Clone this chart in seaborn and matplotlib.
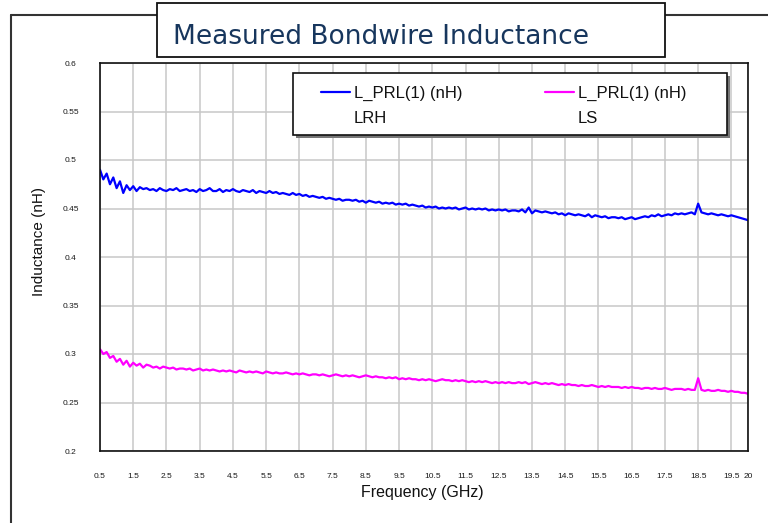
import numpy as np
import pandas as pd
import matplotlib
matplotlib.use("Agg")
import matplotlib.pyplot as plt
from matplotlib.lines import Line2D
from matplotlib.patches import Rectangle
import seaborn as sns

# ---------------- data ----------------
freq_ghz = np.round(np.arange(0.5, 20.05, 0.1), 1)

lrh_nh = [
    0.490, 0.480, 0.486, 0.475, 0.482,
    0.471, 0.478, 0.466, 0.474, 0.469, 0.473, 0.468, 0.472, 0.470, 0.471,
    0.469, 0.470, 0.468, 0.471, 0.469, 0.468, 0.470, 0.469, 0.471, 0.468,
    0.469, 0.470, 0.468, 0.469, 0.467, 0.470, 0.468, 0.469, 0.471, 0.468,
    0.468, 0.470, 0.467, 0.469, 0.468, 0.470, 0.468, 0.467, 0.469, 0.468,
    0.467, 0.469, 0.466, 0.468, 0.467, 0.466, 0.468, 0.466, 0.467, 0.465,
    0.466, 0.465, 0.464, 0.466, 0.464, 0.465, 0.463, 0.464, 0.462, 0.463,
    0.462, 0.461, 0.462, 0.460, 0.461, 0.460, 0.459, 0.460, 0.458, 0.459,
    0.459, 0.458, 0.459, 0.457, 0.458, 0.456, 0.458, 0.457, 0.456, 0.457,
    0.455, 0.456, 0.455, 0.456, 0.454, 0.455, 0.454, 0.455, 0.453, 0.454,
    0.453, 0.452, 0.453, 0.451, 0.452, 0.451, 0.452, 0.450, 0.451, 0.450,
    0.451, 0.450, 0.451, 0.449, 0.450, 0.451, 0.449, 0.450, 0.449, 0.450,
    0.449, 0.450, 0.448, 0.449, 0.448, 0.449, 0.448, 0.449, 0.447, 0.448,
    0.448, 0.447, 0.449, 0.446, 0.451, 0.445, 0.448, 0.447, 0.446, 0.447,
    0.446, 0.445, 0.446, 0.444, 0.445, 0.443, 0.445, 0.444, 0.443, 0.444,
    0.443, 0.442, 0.444, 0.441, 0.443, 0.442, 0.441, 0.442, 0.440, 0.441,
    0.441, 0.440, 0.441, 0.439, 0.440, 0.441, 0.439, 0.440, 0.441, 0.442,
    0.441, 0.443, 0.442, 0.444, 0.442, 0.443, 0.444, 0.443, 0.445, 0.444,
    0.445, 0.444, 0.445, 0.446, 0.444, 0.455, 0.446, 0.445, 0.444, 0.445,
    0.444, 0.443, 0.444, 0.443, 0.442, 0.443, 0.442, 0.441, 0.440, 0.439,
    0.438,
]

ls_nh = [
    0.305, 0.300, 0.302, 0.296, 0.298,
    0.292, 0.295, 0.289, 0.293, 0.287, 0.291, 0.288, 0.290, 0.286, 0.289,
    0.288, 0.286, 0.287, 0.285, 0.287, 0.286, 0.285, 0.286, 0.284, 0.285,
    0.285, 0.284, 0.285, 0.283, 0.284, 0.285, 0.283, 0.284, 0.283, 0.284,
    0.283, 0.282, 0.283, 0.282, 0.283, 0.282, 0.281, 0.283, 0.282, 0.281,
    0.282, 0.281, 0.282, 0.281, 0.280, 0.282, 0.281, 0.280, 0.281, 0.280,
    0.280, 0.281, 0.280, 0.279, 0.280, 0.279, 0.280, 0.279, 0.278, 0.279,
    0.279, 0.278, 0.279, 0.278, 0.277, 0.278, 0.279, 0.278, 0.277, 0.278,
    0.277, 0.278, 0.277, 0.276, 0.277, 0.278, 0.277, 0.276, 0.277, 0.276,
    0.276, 0.275, 0.276, 0.275, 0.276, 0.274, 0.275, 0.274, 0.275, 0.274,
    0.274, 0.273, 0.274, 0.273, 0.274, 0.273, 0.272, 0.273, 0.274, 0.273,
    0.273, 0.272, 0.273, 0.272, 0.273, 0.272, 0.271, 0.272, 0.271, 0.272,
    0.271, 0.272, 0.271, 0.270, 0.271, 0.270, 0.271, 0.270, 0.271, 0.270,
    0.270, 0.271, 0.270, 0.271, 0.269, 0.270, 0.271, 0.270, 0.269, 0.270,
    0.269, 0.270, 0.269, 0.268, 0.269, 0.268, 0.269, 0.268, 0.268, 0.267,
    0.268, 0.267, 0.267, 0.268, 0.267, 0.266, 0.267, 0.266, 0.267, 0.266,
    0.266, 0.266, 0.265, 0.266, 0.265, 0.266, 0.265, 0.265, 0.264, 0.265,
    0.265, 0.264, 0.265, 0.264, 0.264, 0.265, 0.264, 0.263, 0.264, 0.264,
    0.264, 0.263, 0.264, 0.263, 0.263, 0.275, 0.263, 0.262, 0.263, 0.262,
    0.262, 0.263, 0.262, 0.262, 0.261, 0.262, 0.261, 0.261, 0.260, 0.260,
    0.259,
]

series_names = ["LRH", "LS"]
legend_line1 = ["L_PRL(1) (nH)", "L_PRL(1) (nH)"]
x_ticks = [0.5, 1.5, 2.5, 3.5, 4.5, 5.5, 6.5, 7.5, 8.5, 9.5, 10.5, 11.5,
           12.5, 13.5, 14.5, 15.5, 16.5, 17.5, 18.5, 19.5, 20]
x_tick_labels = ["0.5", "1.5", "2.5", "3.5", "4.5", "5.5", "6.5", "7.5", "8.5",
                 "9.5", "10.5", "11.5", "12.5", "13.5", "14.5", "15.5", "16.5",
                 "17.5", "18.5", "19.5", "20"]
y_ticks = [0.2, 0.25, 0.3, 0.35, 0.4, 0.45, 0.5, 0.55, 0.6]
y_tick_labels = ["0.2", "0.25", "0.3", "0.35", "0.4", "0.45", "0.5", "0.55", "0.6"]
title = "Measured Bondwire Inductance"
x_label = "Frequency (GHz)"
y_label = "Inductance (nH)"

# ---------------- style ----------------
sns.set_style("white")
plt.rcParams["font.family"] = ["Liberation Sans", "DejaVu Sans"]

W, H = 768, 523
fig = plt.figure(figsize=(W / 100, H / 100), dpi=100)
fig.patch.set_facecolor("white")


def fx(px):
    return px / W


def fy(py):
    return 1 - py / H


ax = fig.add_axes([fx(100), fy(451), (748 - 100) / W, (451 - 63) / H])

df = pd.DataFrame({
    "freq": np.concatenate([freq_ghz, freq_ghz]),
    "val": np.concatenate([lrh_nh, ls_nh]),
    "series": [series_names[0]] * len(freq_ghz) + [series_names[1]] * len(freq_ghz),
})
palette = {"LRH": "#0000ff", "LS": "#ff00ff"}
sns.lineplot(data=df, x="freq", y="val", hue="series", palette=palette,
             estimator=None, sort=False, linewidth=1.6, legend=False, ax=ax)

ax.set_xlim(0.5, 20)
ax.set_ylim(0.2, 0.6)
ax.set_xticks(x_ticks)
ax.set_xticklabels(x_tick_labels)
ax.set_yticks(y_ticks)
ax.set_yticklabels(y_tick_labels)
ax.grid(True, color="#c8c8c8", linewidth=1.1)
ax.set_axisbelow(True)
for s in ax.spines.values():
    s.set_color("#111111")
    s.set_linewidth(1.2)
    s.set_visible(True)
ax.tick_params(axis="both", length=0, labelsize=6, labelcolor="#1a1a1a")
ax.tick_params(axis="x", pad=16)
ax.tick_params(axis="y", pad=21)
for lbl in ax.get_yticklabels():
    lbl.set_horizontalalignment("center")

ax.set_xlabel(x_label, fontsize=11.5, color="#111111")
ax.set_ylabel(y_label, fontsize=11, color="#111111")
ax.xaxis.set_label_coords(0.498, -0.088)
ax.yaxis.set_label_coords(-0.083, 0.541)

# outer frame (left and top edges)
fig.add_artist(Line2D([fx(11), fx(11)], [fy(15), 0], transform=fig.transFigure,
                      color="#333333", lw=1.5, zorder=1))
fig.add_artist(Line2D([fx(11), 1], [fy(15), fy(15)], transform=fig.transFigure,
                      color="#333333", lw=1.5, zorder=1))

# title box
fig.add_artist(Rectangle((fx(157), fy(57)), fx(665) - fx(157), fy(3) - fy(57),
                         transform=fig.transFigure, facecolor="white",
                         edgecolor="#111111", lw=1.3, zorder=3))
fig.text(fx(173), fy(37), title, fontsize=19, color="#17365d",
         family=["DejaVu Sans"], ha="left", va="center", zorder=4)

# legend frame with shadow
fig.add_artist(Rectangle((fx(296), fy(138)), fx(727) - fx(293), fy(73) - fy(135),
                         transform=fig.transFigure, facecolor="#777777",
                         edgecolor="none", zorder=3))
fig.add_artist(Rectangle((fx(293), fy(135)), fx(727) - fx(293), fy(73) - fy(135),
                         transform=fig.transFigure, facecolor="white",
                         edgecolor="#111111", lw=1.2, zorder=3))

lines = ax.get_lines()
blank = Line2D([], [], color="none")
handles = [lines[0], blank, lines[1], blank]
labels = [legend_line1[0], series_names[0], legend_line1[1], series_names[1]]
leg = fig.legend(handles, labels, loc="upper left",
                 bbox_to_anchor=(fx(321), fy(86)), bbox_transform=fig.transFigure,
                 ncol=2, frameon=False, borderaxespad=0, borderpad=0,
                 handlelength=1.75, handletextpad=0.2, columnspacing=5.0,
                 labelspacing=0.62, prop={"size": 12, "family": ["Liberation Sans"]})
leg.set_zorder(5)
for t in leg.get_texts():
    t.set_color("#111111")

fig.savefig("out.png", dpi=100, facecolor="white")
